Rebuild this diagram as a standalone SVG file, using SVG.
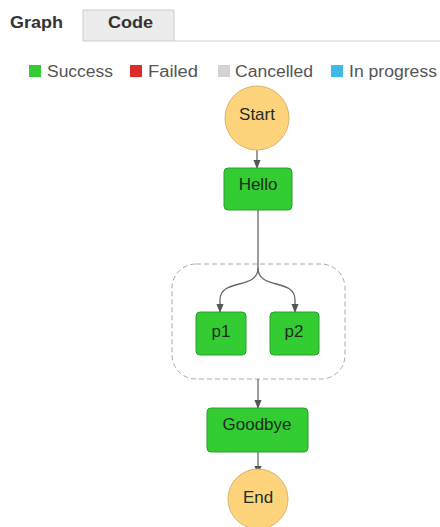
<svg xmlns="http://www.w3.org/2000/svg" width="440" height="527" viewBox="0 0 440 527">
<defs>
<style>
text{font-family:"Liberation Sans",Arial,sans-serif}
.tab{font-size:16px;font-weight:bold;fill:#333}
.leg{font-size:16px;fill:#555}
.lbl{font-size:17px;fill:#1e2e1e;text-anchor:middle}
.ok{fill:#33cc33;stroke:#2aa02a;stroke-width:1}
.term{fill:#fdd47c;stroke:#d8b46a;stroke-width:1}
.edge{fill:none;stroke:#666;stroke-width:1.3}
</style>
<marker id="arr" viewBox="0 0 10 10" refX="9" refY="5" markerWidth="7" markerHeight="7" orient="auto">
<path d="M0,1 L10,5 L0,9 z" fill="#555"/>
</marker>
</defs>
<rect width="440" height="527" fill="#fff"/>
<g id="tabs">
<path d="M83,41 V10 H174 V41" fill="#ececec" stroke="#ccc"/>
<line x1="83" y1="41" x2="440" y2="41" stroke="#ccc"/>
<text class="tab" x="10" y="28" textLength="53" lengthAdjust="spacingAndGlyphs">Graph</text>
<text class="tab" x="108" y="28" textLength="45" lengthAdjust="spacingAndGlyphs">Code</text>
</g>
<g id="legend">
<rect x="29" y="65" width="12" height="12" fill="#33cc33"/>
<text class="leg" x="47" y="77" textLength="66" lengthAdjust="spacingAndGlyphs">Success</text>
<rect x="130" y="65" width="12" height="12" fill="#dd2b2b"/>
<text class="leg" x="148" y="77" textLength="50" lengthAdjust="spacingAndGlyphs">Failed</text>
<rect x="218" y="65" width="12" height="12" fill="#d3d3d3"/>
<text class="leg" x="235" y="77" textLength="78" lengthAdjust="spacingAndGlyphs">Cancelled</text>
<rect x="331" y="65" width="12" height="12" fill="#3cbce6"/>
<text class="leg" x="349" y="77" textLength="88" lengthAdjust="spacingAndGlyphs">In progress</text>
</g>
<g id="group-parallel">
<rect x="172" y="264" width="173" height="115" rx="24" fill="none" stroke="#aaa" stroke-dasharray="5,3"/>
</g>
<g id="connectors">
<line class="edge" x1="257" y1="150" x2="257" y2="168" marker-end="url(#arr)"/>
<path class="edge" d="M258,210 V268 C258,290 220,278 220,300 V312" marker-end="url(#arr)"/>
<path class="edge" d="M258,268 C258,290 295,278 295,300 V312" marker-end="url(#arr)"/>
<line class="edge" x1="258" y1="379" x2="258" y2="408" marker-end="url(#arr)"/>
<line class="edge" x1="258" y1="452" x2="258" y2="474" marker-end="url(#arr)"/>
</g>
<g id="node-start">
<circle class="term" cx="257" cy="118" r="32"/>
<text class="lbl" x="257" y="120">Start</text>
</g>
<g id="node-hello">
<rect class="ok" x="224" y="168" width="68" height="42" rx="4"/>
<text class="lbl" x="258" y="190">Hello</text>
</g>
<g id="node-p1">
<rect class="ok" x="196" y="312" width="50" height="43" rx="4"/>
<text class="lbl" x="221" y="337">p1</text>
</g>
<g id="node-p2">
<rect class="ok" x="270" y="312" width="49" height="43" rx="4"/>
<text class="lbl" x="294" y="337">p2</text>
</g>
<g id="node-goodbye">
<rect class="ok" x="207" y="408" width="101" height="44" rx="4"/>
<text class="lbl" x="257" y="430">Goodbye</text>
</g>
<g id="node-end">
<circle class="term" cx="258" cy="499" r="30"/>
<text class="lbl" x="258" y="503">End</text>
</g>
</svg>
